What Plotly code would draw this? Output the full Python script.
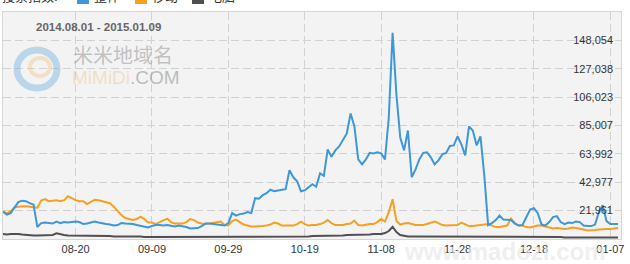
import pandas as pd
import plotly.graph_objects as go

dates = pd.date_range("2014-08-01", "2015-01-09", freq="D")

overall = [
    21080, 19010, 20120, 24540, 28230, 29340, 28970, 27490, 26390, 9790,
    12740, 13110, 12740, 12380, 13850, 12740, 13480, 13110, 13480, 13850,
    13480, 12010, 12380, 13110, 13850, 13110, 12380, 12010, 11640, 10900,
    11270, 12740, 12380, 12380, 12010, 11270, 10530, 10160, 9430, 10530,
    11270, 11270, 10900, 11270, 10900, 10160, 10900, 10530, 9790, 8690,
    8690, 9060, 10530, 12380, 12380, 12010, 11270, 10900, 10900, 12740,
    20120, 18270, 19380, 19750, 20860, 20120, 31180, 30810, 33390, 34870,
    37450, 36340, 37080, 37450, 37820, 51830, 46660, 43710, 36340, 37080,
    39290, 41500, 39660, 49610, 47770, 67310, 61780, 66570, 69520, 73950,
    79110, 93860, 84270, 59940, 56250, 59940, 64730, 64360, 65100, 64360,
    59940, 90910, 153590, 107870, 76160, 66570, 81320, 46660, 52560, 59940,
    64730, 65100, 61410, 56250, 59200, 63620, 64730, 69890, 70260, 76900,
    71000, 62890, 84270, 81320, 70260, 76900, 48140, 11270, 12740, 14960,
    18270, 15320, 15320, 14960, 12380, 10900, 11270, 17170, 22700, 23800,
    20120, 11640, 10900, 13480, 17170, 17910, 13480, 12010, 13110, 12740,
    13850, 13480, 10900, 10530, 10530, 11640, 20860, 26020, 14220, 12010,
    12010, 12010,
]

mobile = [
    21590, 19750, 21590, 24170, 24910, 25280, 25280, 24910, 24540, 24170,
    29340, 30440, 28970, 29340, 29700, 28970, 29700, 32650, 31180, 29700,
    28970, 28970, 26750, 28230, 30070, 29700, 28970, 28600, 27490, 24910,
    21590, 18640, 16430, 15690, 14960, 15690, 17540, 15690, 13110, 13110,
    12010, 13480, 14960, 16060, 13480, 12380, 12380, 12380, 13480, 15690,
    14960, 13110, 12380, 12010, 12380, 12740, 13480, 13850, 11270, 10900,
    14220, 15320, 13480, 11640, 10900, 10160, 10160, 10160, 10530, 10900,
    11640, 13110, 12380, 10900, 10900, 10900, 10900, 12010, 13850, 12010,
    10900, 11270, 11270, 12010, 13110, 14960, 12740, 11270, 11270, 11270,
    12010, 12380, 14590, 11270, 10900, 11640, 12010, 12010, 13480, 15690,
    13850, 20860, 30440, 14220, 11640, 12380, 12740, 12010, 11270, 11270,
    11270, 12010, 12740, 13850, 12740, 11270, 10900, 10900, 10900, 11270,
    13110, 12010, 10530, 10530, 10900, 10900, 11640, 12010, 10900, 9790,
    9790, 10530, 10900, 16060, 12740, 10900, 10900, 9790, 9430, 10160,
    10900, 10900, 10160, 9060, 8690, 9060, 8690, 8320, 8690, 9430,
    9060, 8690, 7950, 7210, 7210, 7580, 7950, 8320, 8320, 8320,
    8690, 9060,
]

pc = [
    4630, 4260, 4630, 4900, 4630, 4260, 3900, 3900, 3530, 3530,
    3530, 3530, 3530, 3900, 5150, 4260, 3900, 3530, 3530, 3530,
    3530, 3160, 3160, 3530, 3160, 3160, 3160, 3530, 3160, 2790,
    2790, 3160, 2790, 2790, 2790, 2790, 2790, 2420, 2420, 2790,
    2420, 2420, 2790, 2420, 2420, 2420, 2420, 2790, 2420, 2420,
    2420, 2420, 2420, 2790, 2420, 2420, 2420, 2420, 2790, 2420,
    2420, 2420, 2420, 2790, 2420, 2420, 2420, 2420, 2420, 2420,
    2420, 2790, 2420, 2420, 2790, 2790, 2420, 2790, 2790, 2790,
    2790, 3160, 3160, 3160, 3160, 3530, 3530, 3530, 3530, 3530,
    3900, 3900, 3900, 3900, 4260, 4260, 4260, 4630, 4630, 4630,
    5370, 6850, 10010, 6110, 3900, 3160, 2790, 2790, 2790, 2790,
    2790, 2790, 2790, 2790, 2790, 2790, 2790, 2790, 2790, 2790,
    2790, 2790, 2790, 2790, 2790, 2790, 2790, 2790, 2790, 2420,
    2420, 2420, 2790, 2790, 2420, 2420, 2420, 2420, 2420, 2420,
    2420, 2420, 2420, 2420, 2420, 2420, 2420, 2050, 2050, 2420,
    2050, 2050, 2050, 2050, 2050, 2050, 2050, 2050, 2050, 2050,
    2050, 2050,
]

series_names = ["整体", "移动", "电脑"]
series_colors = ["#3d97d8", "#f5a01f", "#505050"]

y_ticks = [21961, 42977, 63992, 85007, 106023, 127038, 148054]
y_tick_text = ["21,961", "42,977", "63,992", "85,007", "106,023", "127,038", "148,054"]
x_ticks = ["2014-08-20", "2014-09-09", "2014-09-29", "2014-10-19",
           "2014-11-08", "2014-11-28", "2014-12-18", "2015-01-07"]
x_tick_text = ["08-20", "09-09", "09-29", "10-19", "11-08", "11-28", "12-18", "01-07"]
date_label = "2014.08.01 - 2015.01.09"

W, H = 630, 264
ml, mr, mt, mb = 3, 9, 12, 25
pw, ph = W - ml - mr, H - mt - mb


def px(x):
    return (x - ml) / pw


def py(y):
    return (H - mb - y) / ph


y_range = [945.5, 169069.5]

fig = go.Figure()
for vals, name, col in [(pc, series_names[2], series_colors[2]),
                        (mobile, series_names[1], series_colors[1]),
                        (overall, series_names[0], series_colors[0])]:
    fig.add_trace(go.Scatter(x=dates, y=vals, mode="lines", name=name,
                             line=dict(color=col, width=2), showlegend=False))
# invisible trace to carry the label axis
fig.add_trace(go.Scatter(x=dates[:1], y=overall[:1], yaxis="y2", mode="lines",
                         line=dict(width=0), showlegend=False, hoverinfo="skip"))

fig.update_layout(
    width=W, height=H,
    margin=dict(l=ml, r=mr, t=mt, b=mb),
    paper_bgcolor="white",
    plot_bgcolor="#f3f3f3",
    font=dict(family="Liberation Sans, Arial, sans-serif", size=11, color="#333333"),
    xaxis=dict(
        range=["2014-08-01", "2015-01-09 19:00"],
        tickvals=x_ticks, ticktext=x_tick_text,
        showgrid=True, gridcolor="#d2d2d2", griddash="8px,4px", gridwidth=1,
        showline=True, linecolor="#d6d6d6", mirror=True,
        ticks="", tickfont=dict(size=11, color="#333333"),
        ticklabeloverflow="allow",
        zeroline=False,
    ),
    yaxis=dict(
        range=y_range, tickvals=y_ticks, showticklabels=False,
        showgrid=True, gridcolor="#d2d2d2", griddash="8px,4px", gridwidth=1,
        showline=True, linecolor="#d6d6d6", mirror=True,
        ticks="", zeroline=False,
    ),
    yaxis2=dict(
        range=y_range, tickvals=y_ticks, ticktext=y_tick_text,
        overlaying="y", side="left", anchor="free", position=px(613),
        showgrid=False, showline=False, zeroline=False, ticks="",
        ticklabelstandoff=0,
        tickfont=dict(size=11, color="#333333"),
    ),
)

# date range label
fig.add_annotation(x=px(34), y=py(27), xref="paper", yref="paper",
                   xanchor="left", yanchor="middle", showarrow=False,
                   text="<b>" + date_label + "</b>",
                   font=dict(size=11.5, color="#666666"))

# watermark logo
fig.add_shape(type="circle", xref="paper", yref="paper",
              x0=px(17), x1=px(57), y0=py(88), y1=py(50),
              line=dict(color="rgba(120,180,225,0.45)", width=7))
fig.add_shape(type="circle", xref="paper", yref="paper",
              x0=px(30), x1=px(50), y0=py(76), y1=py(58),
              line=dict(color="rgba(245,200,140,0.45)", width=4))
fig.add_annotation(x=px(71), y=py(54), xref="paper", yref="paper",
                   xanchor="left", yanchor="middle", showarrow=False,
                   text="米米地域名",
                   font=dict(family="Noto Sans CJK SC", size=20, color="rgba(150,150,150,0.55)"))
fig.add_annotation(x=px(70), y=py(77), xref="paper", yref="paper",
                   xanchor="left", yanchor="middle", showarrow=False,
                   text="<span style='color:rgba(240,180,110,0.6)'>MiMiDi</span>.COM",
                   font=dict(family="Liberation Sans", size=19, color="rgba(150,150,150,0.6)"))

# bottom watermark
fig.add_annotation(x=px(402), y=py(251), xref="paper", yref="paper",
                   xanchor="left", yanchor="middle", showarrow=False,
                   text="<b>www.madozi.com</b>",
                   font=dict(family="Liberation Sans", size=24, color="rgba(232,232,232,0.7)"))

# cut-off legend at top
fig.add_annotation(x=px(0), y=py(-5), xref="paper", yref="paper",
                   xanchor="left", yanchor="middle", showarrow=False,
                   text="搜索指数:",
                   font=dict(family="Noto Sans CJK SC", size=13, color="#333333"))
leg_x = [77, 135, 192]
for lx, name, col in zip(leg_x, series_names, series_colors):
    fig.add_shape(type="rect", xref="paper", yref="paper",
                  x0=px(lx), x1=px(lx + 12), y0=py(4), y1=py(-8),
                  line=dict(width=0), fillcolor=col)
    fig.add_annotation(x=px(lx + 15), y=py(-5), xref="paper", yref="paper",
                       xanchor="left", yanchor="middle", showarrow=False,
                       text=name,
                       font=dict(family="Noto Sans CJK SC", size=13, color="#333333"))

fig.write_html("out.html")
